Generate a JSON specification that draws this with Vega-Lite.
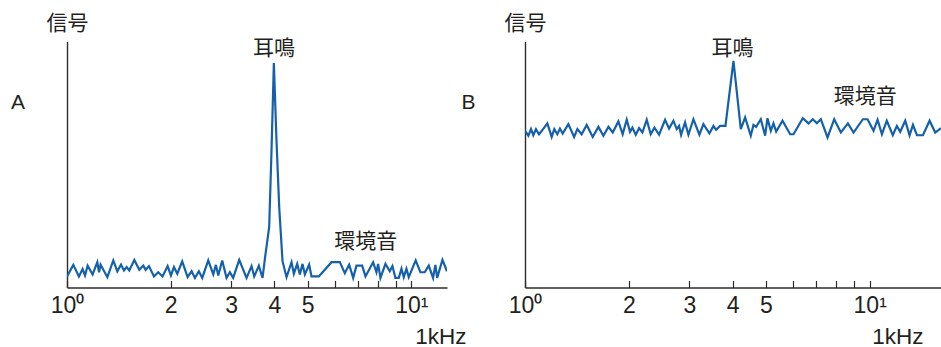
{
  "$schema": "https://vega.github.io/schema/vega-lite/v6.json",
  "padding": {"left": 11, "top": 12.5, "right": 0, "bottom": 0},
  "bounds": "flush",
  "spacing": 78,
  "config": {
    "view": {"stroke": null},
    "font": "Liberation Sans",
    "axis": {
      "domainColor": "#2e2a2a",
      "domainWidth": 1.4,
      "tickColor": "#2e2a2a",
      "tickWidth": 1.2,
      "grid": false,
      "labelFont": "Liberation Sans",
      "labelFontSize": 23,
      "labelColor": "#231f20",
      "titleFont": "Liberation Sans",
      "titleFontSize": 22.5,
      "titleFontWeight": "normal",
      "titleColor": "#231f20"
    },
    "title": {"font": "Liberation Sans", "fontSize": 21, "fontWeight": "normal", "color": "#231f20"}
  },
  "datasets": {
    "a": [
      {"f":1,"v":4.5},{"f":1.043,"v":9.2},{"f":1.083,"v":4.5},{"f":1.11,"v":7.5},{"f":1.128,"v":4.9},{"f":1.148,"v":8.9},{"f":1.187,"v":5.3},{"f":1.225,"v":10.3},{"f":1.239,"v":6.2},{"f":1.252,"v":9.3},{"f":1.31,"v":4.2},{"f":1.363,"v":11},{"f":1.4,"v":6.6},{"f":1.435,"v":9.3},{"f":1.464,"v":6.9},{"f":1.49,"v":8.3},{"f":1.517,"v":6.9},{"f":1.569,"v":11.2},{"f":1.622,"v":7.2},{"f":1.666,"v":8.9},{"f":1.692,"v":7.2},{"f":1.73,"v":8.7},{"f":1.789,"v":4.5},{"f":1.841,"v":6.2},{"f":1.895,"v":4.5},{"f":1.96,"v":8.7},{"f":2.004,"v":4.9},{"f":2.045,"v":8.3},{"f":2.091,"v":5.6},{"f":2.161,"v":10.6},{"f":2.24,"v":4.2},{"f":2.301,"v":6.6},{"f":2.353,"v":3.9},{"f":2.416,"v":6.6},{"f":2.471,"v":3.9},{"f":2.572,"v":11},{"f":2.66,"v":5.3},{"f":2.707,"v":9.2},{"f":2.75,"v":4.9},{"f":2.824,"v":11},{"f":2.907,"v":3.9},{"f":2.972,"v":6.2},{"f":3.039,"v":3.9},{"f":3.164,"v":11.2},{"f":3.323,"v":3.9},{"f":3.436,"v":8.7},{"f":3.498,"v":4.5},{"f":3.608,"v":8.9},{"f":3.698,"v":3.9},{"f":3.773,"v":13.7},{"f":3.866,"v":24.5},{"f":3.927,"v":55.7},{"f":3.989,"v":91.2},{"f":4.06,"v":59.8},{"f":4.134,"v":32.7},{"f":4.227,"v":10.7},{"f":4.342,"v":4.2},{"f":4.49,"v":10.3},{"f":4.56,"v":5.6},{"f":4.663,"v":9.6},{"f":4.746,"v":5.3},{"f":4.832,"v":9.6},{"f":4.908,"v":5.3},{"f":5.051,"v":9.3},{"f":5.131,"v":4.5},{"f":5.389,"v":4.5},{"f":5.866,"v":10.3},{"f":6.203,"v":10.3},{"f":6.412,"v":5.8},{"f":6.601,"v":9.3},{"f":6.781,"v":3.9},{"f":6.932,"v":8.9},{"f":7.2,"v":8.9},{"f":7.362,"v":4.5},{"f":7.748,"v":10.3},{"f":7.923,"v":6.2},{"f":8.011,"v":9.6},{"f":8.138,"v":3.9},{"f":8.414,"v":9.6},{"f":8.662,"v":6.6},{"f":8.818,"v":8.7},{"f":8.995,"v":3.9},{"f":9.199,"v":3.9},{"f":9.365,"v":7.6},{"f":9.511,"v":4.2},{"f":9.683,"v":7.6},{"f":9.834,"v":4.2},{"f":10.3,"v":11},{"f":10.63,"v":6.2},{"f":10.94,"v":6.2},{"f":11.24,"v":8.9},{"f":11.57,"v":3.9},{"f":11.75,"v":9.2},{"f":11.89,"v":3.9},{"f":12.32,"v":11.2},{"f":12.7,"v":6.6}
    ],
    "b": [
      {"f":1,"v":63.7},{"f":1.023,"v":61.7},{"f":1.041,"v":64.4},{"f":1.057,"v":61.9},{"f":1.076,"v":64.4},{"f":1.098,"v":62.3},{"f":1.123,"v":64},{"f":1.161,"v":66.7},{"f":1.195,"v":61.2},{"f":1.216,"v":64.4},{"f":1.241,"v":62.3},{"f":1.263,"v":64.6},{"f":1.286,"v":62.6},{"f":1.336,"v":66.4},{"f":1.388,"v":61.2},{"f":1.419,"v":64.4},{"f":1.46,"v":62.3},{"f":1.51,"v":66.1},{"f":1.572,"v":61.2},{"f":1.633,"v":65.3},{"f":1.688,"v":61.7},{"f":1.746,"v":65.3},{"f":1.797,"v":63},{"f":1.866,"v":67.5},{"f":1.92,"v":62.3},{"f":1.973,"v":68.2},{"f":2.017,"v":63.3},{"f":2.049,"v":65},{"f":2.096,"v":62.1},{"f":2.143,"v":64.8},{"f":2.191,"v":63},{"f":2.255,"v":68.2},{"f":2.316,"v":62.3},{"f":2.374,"v":65},{"f":2.449,"v":62.1},{"f":2.549,"v":68.2},{"f":2.618,"v":64.6},{"f":2.695,"v":67.8},{"f":2.756,"v":64.4},{"f":2.799,"v":65.7},{"f":2.836,"v":62.1},{"f":2.913,"v":67.1},{"f":2.979,"v":62.1},{"f":3.08,"v":68.4},{"f":3.206,"v":62.1},{"f":3.293,"v":66.4},{"f":3.428,"v":62.7},{"f":3.521,"v":65.7},{"f":3.584,"v":64.1},{"f":3.681,"v":65.7},{"f":3.815,"v":65.7},{"f":4.025,"v":92.1},{"f":4.227,"v":64.4},{"f":4.351,"v":69.1},{"f":4.518,"v":61.7},{"f":4.6,"v":66.1},{"f":4.682,"v":65.3},{"f":4.832,"v":68.4},{"f":4.973,"v":61.7},{"f":5.051,"v":68.8},{"f":5.165,"v":63.7},{"f":5.258,"v":66.7},{"f":5.353,"v":63.4},{"f":5.585,"v":67.8},{"f":5.878,"v":62.3},{"f":6.01,"v":62.3},{"f":6.397,"v":68.8},{"f":6.644,"v":66.7},{"f":6.839,"v":68.4},{"f":7.025,"v":66.8},{"f":7.215,"v":68.4},{"f":7.545,"v":61},{"f":7.889,"v":68.4},{"f":8.248,"v":63},{"f":8.644,"v":66.7},{"f":8.977,"v":63},{"f":9.555,"v":68.4},{"f":9.856,"v":68.4},{"f":10.26,"v":63.7},{"f":10.54,"v":68.2},{"f":10.85,"v":62.3},{"f":11.21,"v":67.8},{"f":11.67,"v":61.9},{"f":11.99,"v":65.7},{"f":12.26,"v":63.3},{"f":12.68,"v":67.8},{"f":13.05,"v":61.9},{"f":13.35,"v":66.1},{"f":13.71,"v":61.9},{"f":14.27,"v":61.9},{"f":14.92,"v":67.8},{"f":15.49,"v":63},{"f":16.1,"v":64.8}
    ],
    "la": [
      {"f":3.99,"v":97,"t":"耳鳴"},
      {"f":7.38,"v":18.4,"t":"環境音"}
    ],
    "lb": [
      {"f":4.0,"v":97,"t":"耳鳴"},
      {"f":9.7,"v":77.5,"t":"環境音"}
    ]
  },
  "hconcat": [
    {
      "width": 380,
      "height": 246,
      "title": {"text": "A", "orient": "top", "anchor": "start", "frame": "group", "dx": -56, "dy": 104.5},
      "layer": [
        {
          "data": {"name": "a"},
          "mark": {"type": "line", "color": "#1560ab", "strokeWidth": 2.2, "clip": true},
          "encoding": {
            "x": {"field": "f", "type": "quantitative",
              "scale": {"type": "log", "domain": [1, 12.7], "nice": false},
              "axis": {"values": [1,2,3,4,5,6,7,8,9,10], "tickSize": -7, "labelPadding": 13.5,
                "labelExpr": "datum.value == 1 ? '10⁰' : datum.value == 10 ? '10¹' : datum.value <= 5 ? '' + datum.value : ''",
                "labelFlush": false, "labelOverlap": false,
                "title": "1kHz", "titleX": 399, "titleY": 55.5, "titleAlign": "right", "titleBaseline": "alphabetic"}},
            "y": {"field": "v", "type": "quantitative",
              "scale": {"domain": [0, 100], "nice": false, "zero": false},
              "axis": {"title": "信号", "titleAngle": 0, "titleX": 0, "titleY": -18, "titleAlign": "center", "titleBaseline": "middle",
                "titleFont": "Noto Sans CJK JP", "titleFontSize": 21, "ticks": false, "labels": false}}
          }
        },
        {
          "data": {"name": "la"},
          "mark": {"type": "text", "font": "Noto Sans CJK JP", "fontSize": 21, "color": "#231f20"},
          "encoding": {
            "x": {"field": "f", "type": "quantitative"},
            "y": {"field": "v", "type": "quantitative"},
            "text": {"field": "t"}
          }
        }
      ]
    },
    {
      "width": 416,
      "height": 246,
      "title": {"text": "B", "orient": "top", "anchor": "start", "frame": "group", "dx": -63.5, "dy": 104.5},
      "layer": [
        {
          "data": {"name": "b"},
          "mark": {"type": "line", "color": "#1560ab", "strokeWidth": 2.2, "clip": true},
          "encoding": {
            "x": {"field": "f", "type": "quantitative",
              "scale": {"type": "log", "domain": [1, 16.1], "nice": false},
              "axis": {"values": [1,2,3,4,5,6,7,8,9,10], "tickSize": -7, "labelPadding": 13.5,
                "labelExpr": "datum.value == 1 ? '10⁰' : datum.value == 10 ? '10¹' : datum.value <= 5 ? '' + datum.value : ''",
                "labelFlush": false, "labelOverlap": false,
                "title": "1kHz", "titleX": 398, "titleY": 55.5, "titleAlign": "right", "titleBaseline": "alphabetic"}},
            "y": {"field": "v", "type": "quantitative",
              "scale": {"domain": [0, 100], "nice": false, "zero": false},
              "axis": {"title": "信号", "titleAngle": 0, "titleX": 0, "titleY": -18, "titleAlign": "center", "titleBaseline": "middle",
                "titleFont": "Noto Sans CJK JP", "titleFontSize": 21, "ticks": false, "labels": false}}
          }
        },
        {
          "data": {"name": "lb"},
          "mark": {"type": "text", "font": "Noto Sans CJK JP", "fontSize": 21, "color": "#231f20"},
          "encoding": {
            "x": {"field": "f", "type": "quantitative"},
            "y": {"field": "v", "type": "quantitative"},
            "text": {"field": "t"}
          }
        }
      ]
    }
  ]
}
